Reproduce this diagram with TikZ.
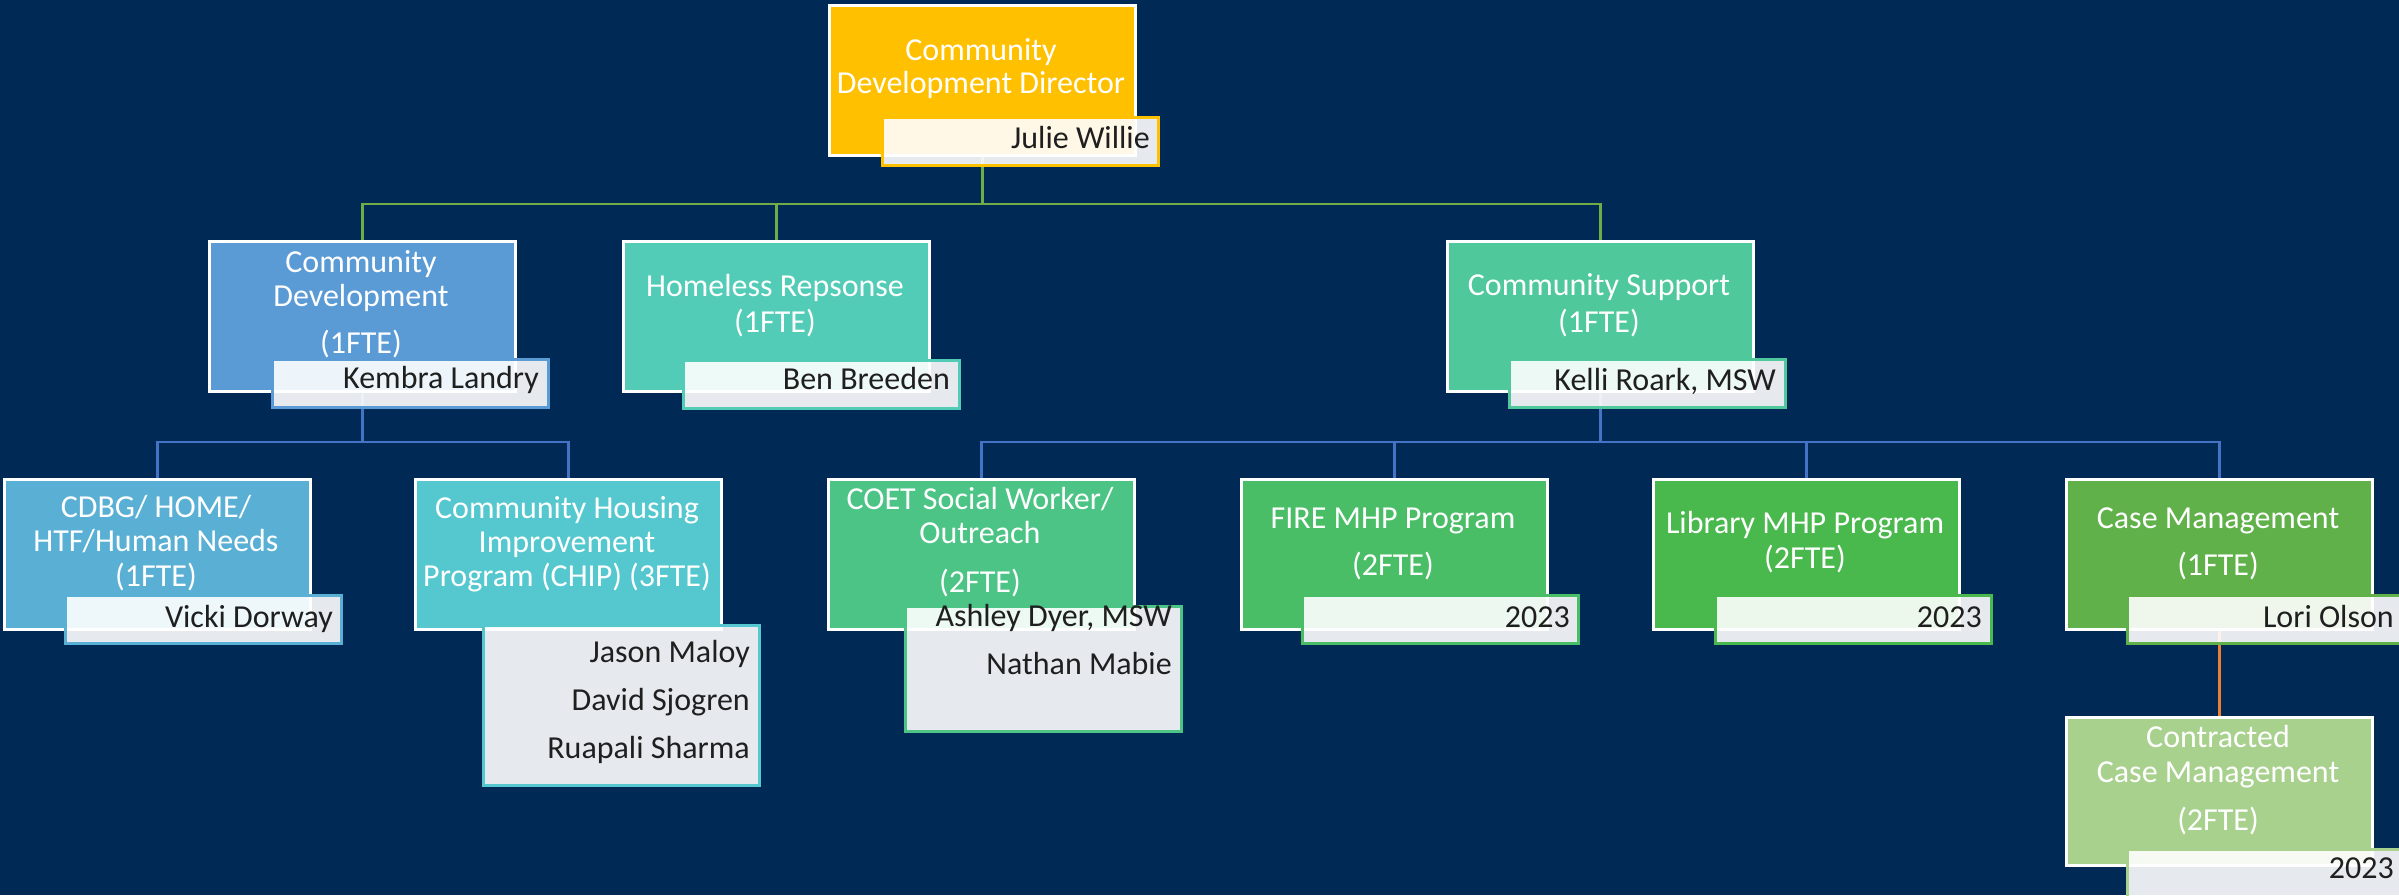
\documentclass[tikz,border=0pt]{standalone}
\usepackage{fontspec}
\setmainfont{Carlito}
\usetikzlibrary{calc}
\pgfdeclarelayer{bottom}
\pgfdeclarelayer{background}
\pgfsetlayers{bottom,background,main}
\definecolor{bg}{RGB}{0,41,86}
\definecolor{cyel}{RGB}{255,192,0}
\definecolor{ccd}{RGB}{91,155,213}
\definecolor{chr}{RGB}{82,204,183}
\definecolor{ccs}{RGB}{79,200,155}
\definecolor{ccdbg}{RGB}{90,176,212}
\definecolor{cchip}{RGB}{85,200,207}
\definecolor{ccoet}{RGB}{76,196,134}
\definecolor{cfire}{RGB}{74,190,102}
\definecolor{clib}{RGB}{74,185,77}
\definecolor{ccase}{RGB}{97,177,75}
\definecolor{ccon}{RGB}{169,209,142}
\definecolor{lgreen}{RGB}{112,173,71}
\definecolor{lblue}{RGB}{68,114,196}
\definecolor{lorange}{RGB}{237,125,49}
\begin{document}
\begin{tikzpicture}[x=1pt,y=-1pt,
  box/.style={draw=white,line width=2.5pt,anchor=north west,inner sep=0pt,minimum width=306pt,minimum height=150pt},
  namebox/.style={draw=#1,line width=2.5pt,fill=white,fill opacity=0.9,anchor=north west,inner sep=0pt,minimum width=276pt,minimum height=48pt},
  t/.style={text=white,anchor=base,inner sep=0pt,font=\fontsize{32}{34}\selectfont},
  nm/.style={text=black!88,anchor=base east,inner sep=0pt,font=\fontsize{32}{34}\selectfont},
  gl/.style={draw=lgreen,line width=2.5pt},
  bl/.style={draw=lblue,line width=2.5pt},
  ol/.style={draw=lorange,line width=2.5pt}]
\begin{pgfonlayer}{bottom}
\fill[bg] (0,0) rectangle (2399,895);
\end{pgfonlayer}
\useasboundingbox (0,0) rectangle (2399,895);

% main boxes
\node[box,fill=cyel] (dir) at (828,4) {};
\node[box,fill=ccd] (cd) at (208,240) {};
\node[box,fill=chr] (hr) at (622,240) {};
\node[box,fill=ccs] (cs) at (1446,240) {};
\node[box,fill=ccdbg] (cdbg) at (3,478) {};
\node[box,fill=cchip] (chip) at (414,478) {};
\node[box,fill=ccoet] (coet) at (827,478) {};
\node[box,fill=cfire] (fire) at (1240,478) {};
\node[box,fill=clib] (lib) at (1652,478) {};
\node[box,fill=ccase] (case) at (2065,478) {};
\node[box,fill=ccon,minimum height=148pt] (con) at (2065,716) {};

% connectors (behind boxes)
\coordinate (b1) at (dir.south |- 0,204);
\coordinate (b2) at (cd.south |- 0,442);
\coordinate (b3) at (cs.south |- 0,442);
\begin{pgfonlayer}{background}
\draw[gl] (dir.south) -- (b1);
\draw[gl] (cd.north) |- (b1);
\draw[gl] (hr.north) |- (b1);
\draw[gl] (cs.north) |- (b1);
\draw[bl] (cd.south) -- (b2);
\draw[bl] (cdbg.north) |- (b2);
\draw[bl] (chip.north) |- (b2);
\draw[bl] (cs.south) -- (b3);
\draw[bl] (coet.north) |- (b3);
\draw[bl] (fire.north) |- (b3);
\draw[bl] (lib.north) |- (b3);
\draw[bl] (case.north) |- (b3);
\draw[ol] (case.south) -- (con.north);
\end{pgfonlayer}

% name boxes
\node[namebox=cyel] (dirN) at (881,116) {};
\node[namebox=ccd] (cdN) at (271,358) {};
\node[namebox=chr] (hrN) at (682,359) {};
\node[namebox=ccs] (csN) at (1508,358) {};
\node[namebox=ccdbg] (cdbgN) at (64,594) {};
\node[namebox=cchip,minimum height=160pt] (chipN) at (482,624) {};
\node[namebox=ccoet,minimum height=125pt] (coetN) at (904,605) {};
\node[namebox=cfire] (fireN) at (1301,594) {};
\node[namebox=clib] (libN) at (1714,594) {};
\node[namebox=ccase] (caseN) at (2126,594) {};
\node[namebox=ccon] (conN) at (2126,848) {};

% box texts
\node[t] (dirT1) at (981,60) {Community};
\node[t] (dirT2) at (981,93) {Development Director};
\node[t] (cdT1) at (361,272) {Community};
\node[t] (cdT2) at (361,306) {Development};
\node[t] (cdT3) at (361,353) {(1FTE)};
\node[t] (hrT1) at (775,296) {Homeless Repsonse};
\node[t] (hrT2) at (775,332) {(1FTE)};
\node[t] (csT1) at (1599,295) {Community Support};
\node[t] (csT2) at (1599,332) {(1FTE)};
\node[t] (cdbgT1) at (156,517) {CDBG/ HOME/};
\node[t] (cdbgT2) at (156,551) {HTF/Human Needs};
\node[t] (cdbgT3) at (156,586) {(1FTE)};
\node[t] (chipT1) at (567,518) {Community Housing};
\node[t] (chipT2) at (567,552) {Improvement};
\node[t] (chipT3) at (567,586) {Program (CHIP) (3FTE)};
\node[t] (coetT1) at (980,509) {COET Social Worker/};
\node[t] (coetT2) at (980,543) {Outreach};
\node[t] (coetT3) at (980,592) {(2FTE)};
\node[t] (fireT1) at (1393,528) {FIRE MHP Program};
\node[t] (fireT2) at (1393,575) {(2FTE)};
\node[t] (libT1) at (1805,533) {Library MHP Program};
\node[t] (libT2) at (1805,568) {(2FTE)};
\node[t] (caseT1) at (2218,528) {Case Management};
\node[t] (caseT2) at (2218,575) {(1FTE)};
\node[t] (conT1) at (2218,747) {Contracted};
\node[t] (conT2) at (2218,782) {Case Management};
\node[t] (conT3) at (2218,830) {(2FTE)};

% names
\node[nm] (dirP) at (1150,148) {Julie Willie};
\node[nm] (cdP) at (539,388) {Kembra Landry};
\node[nm] (hrP) at (950,389) {Ben Breeden};
\node[nm] (csP) at (1776,390) {Kelli Roark, MSW};
\node[nm] (cdbgP) at (333,627) {Vicki Dorway};
\node[nm] (chipP1) at (750,662) {Jason Maloy};
\node[nm] (chipP2) at (750,710) {David Sjogren};
\node[nm] (chipP3) at (750,758) {Ruapali Sharma};
\node[nm] (coetP1) at (1172,626) {Ashley Dyer, MSW};
\node[nm] (coetP2) at (1172,674) {Nathan Mabie};
\node[nm] (fireP) at (1570,627) {2023};
\node[nm] (libP) at (1982,627) {2023};
\node[nm] (caseP) at (2394,627) {Lori Olson};
\node[nm] (conP) at (2394,878) {2023};
\end{tikzpicture}
\end{document}
